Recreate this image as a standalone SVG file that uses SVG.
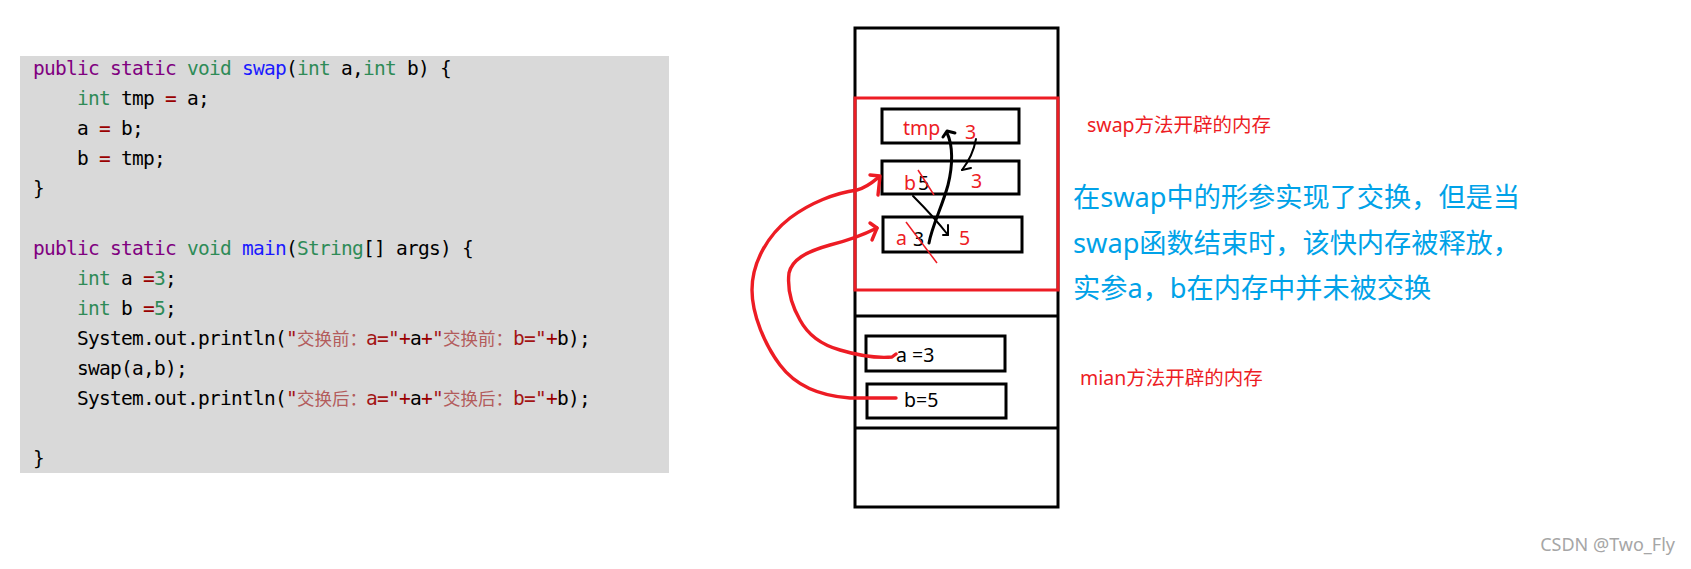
<svg xmlns="http://www.w3.org/2000/svg" width="1691" height="569" viewBox="0 0 1691 569">
<style>
.code{font-family:"DejaVu Sans Mono","Liberation Mono",monospace;font-size:19.5px;letter-spacing:-0.74px;fill:#000;white-space:pre}
.cjk{font-family:"Noto Sans CJK SC",sans-serif;font-size:17.5px;letter-spacing:0;fill:#b35c5c}
.kw{fill:#800080}.ty{fill:#2e8b57}.fn{fill:#1a1aff}.op{fill:#990000}.st{fill:#a31515}.nu{fill:#2e8b57}
.box{fill:none;stroke:#000;stroke-width:3}
.redbox{fill:none;stroke:#ed1c24;stroke-width:3}
.lbl{font-family:"Noto Sans","Noto Sans CJK SC",sans-serif;font-size:19.5px}
.red{fill:#ed1c24}
.rl{fill:none;stroke:#ed1c24;stroke-width:3.4;stroke-linecap:round;stroke-linejoin:round}
.bl{fill:none;stroke:#000;stroke-linecap:round;stroke-linejoin:round}
.slash{fill:none;stroke:#ed1c24;stroke-width:1.5}
.note{font-family:"Noto Sans","Noto Sans CJK SC",sans-serif}
</style>
<rect width="1691" height="569" fill="#fff"/>
<g id="code">
<rect x="20" y="56" width="649" height="417" fill="#d9d9d9"/>
<text class="code" x="33" y="75"><tspan class="kw">public static</tspan> <tspan class="ty">void</tspan> <tspan class="fn">swap</tspan>(<tspan class="ty">int</tspan> a,<tspan class="ty">int</tspan> b) {</text>
<text class="code" x="77" y="105"><tspan class="ty">int</tspan> tmp <tspan class="op">=</tspan> a;</text>
<text class="code" x="77" y="135">a <tspan class="op">=</tspan> b;</text>
<text class="code" x="77" y="165">b <tspan class="op">=</tspan> tmp;</text>
<text class="code" x="33" y="195">}</text>
<text class="code" x="33" y="255"><tspan class="kw">public static</tspan> <tspan class="ty">void</tspan> <tspan class="fn">main</tspan>(<tspan class="ty">String</tspan>[] args) {</text>
<text class="code" x="77" y="285"><tspan class="ty">int</tspan> a <tspan class="op">=</tspan><tspan class="nu">3</tspan>;</text>
<text class="code" x="77" y="315"><tspan class="ty">int</tspan> b <tspan class="op">=</tspan><tspan class="nu">5</tspan>;</text>
<text class="code" y="345"><tspan x="77">System.out.println(<tspan class="st">"</tspan></tspan><tspan x="297" class="cjk">交换前：</tspan><tspan x="366" class="st">a="</tspan><tspan class="op">+</tspan>a<tspan class="op">+</tspan><tspan class="st">"</tspan><tspan x="443" class="cjk">交换前：</tspan><tspan x="513" class="st">b="</tspan><tspan class="op">+</tspan>b);</text>
<text class="code" x="77" y="375">swap(a,b);</text>
<text class="code" y="405"><tspan x="77">System.out.println(<tspan class="st">"</tspan></tspan><tspan x="297" class="cjk">交换后：</tspan><tspan x="366" class="st">a="</tspan><tspan class="op">+</tspan>a<tspan class="op">+</tspan><tspan class="st">"</tspan><tspan x="443" class="cjk">交换后：</tspan><tspan x="513" class="st">b="</tspan><tspan class="op">+</tspan>b);</text>
<text class="code" x="33" y="465">}</text>
</g>
<g id="stack">
<rect class="box" x="855" y="28" width="203" height="479"/>
<line class="box" x1="855" y1="316" x2="1058" y2="316"/>
<line class="box" x1="855" y1="428" x2="1058" y2="428"/>
</g>
<g id="swap-frame">
<rect class="redbox" x="855" y="98" width="203" height="192"/>
</g>
<g id="swap-tmp">
<rect class="box" x="882" y="109" width="137" height="34"/>
<text class="lbl red" x="903" y="135">tmp</text>
<text class="lbl red" x="965" y="139">3</text>
</g>
<g id="swap-b">
<rect class="box" x="882" y="161" width="137" height="33"/>
<text class="lbl red" x="904" y="190">b</text>
<text class="lbl" x="918" y="190">5</text>
<line class="slash" x1="918" y1="170" x2="934" y2="195"/>
<text class="lbl red" x="971" y="188">3</text>
</g>
<g id="swap-a">
<rect class="box" x="883" y="217" width="139" height="35"/>
<text class="lbl red" x="896" y="245">a</text>
<text class="lbl" x="913" y="246">3</text>
<line class="slash" x1="906" y1="222" x2="937" y2="263"/>
<text class="lbl red" x="959" y="245">5</text>
</g>
<g id="main-a">
<rect class="box" x="866" y="336" width="139" height="35"/>
<text class="lbl" x="896" y="362" font-size="22">a =3</text>
</g>
<g id="main-b">
<rect class="box" x="867" y="384" width="139" height="34"/>
<text class="lbl" x="904" y="407" font-size="22">b=5</text>
</g>
<g id="labels">
<text class="note red" x="1087" y="132" font-size="19.5">swap方法开辟的内存</text>
<text class="note red" x="1080" y="385" font-size="19.5">mian方法开辟的内存</text>
<g class="note" font-size="27.2" fill="#00a2e8">
<text x="1073" y="207">在swap中的形参实现了交换，但是当</text>
<text x="1073" y="253">swap函数结束时，该快内存被释放，</text>
<text x="1073" y="298">实参a，b在内存中并未被交换</text>
</g>
<text class="note" x="1675" y="551" font-size="18" fill="#a6a6a6" text-anchor="end">CSDN @Two_Fly</text>
</g>
<g id="connectors">
<path class="rl" d="M896,398 L850,398 C820,396 795,385 780,365 C765,345 752,315 752,290 C752,262 768,235 790,218 C810,203 835,193 857,190 C866,188 873,182 879,177"/>
<path class="rl" d="M870,175 L880,176 L878,195"/>
<path class="rl" d="M896,354 L892,357 C880,358 860,356 840,350 C822,345 808,335 800,320 C792,306 787,290 789,273 C792,260 805,252 830,245 C850,240 865,234 877,228"/>
<path class="rl" d="M870,223 L877,228 L872,240"/>
<path class="bl" stroke-width="3" d="M929,243 C932,226 942,207 948,185 C953,165 953,145 947,133"/>
<path class="bl" stroke-width="3" d="M943,137 L947,131 L955,133"/>
<path class="bl" stroke-width="2" d="M976,139 C974,150 969,161 962,170"/>
<path class="bl" stroke-width="2" d="M962,170 L971,168"/>
<path class="bl" stroke-width="2" d="M913,196 C925,208 938,222 948,235"/>
<path class="bl" stroke-width="2" d="M948,225 L948,235 L943,235"/>
</g>
</svg>
